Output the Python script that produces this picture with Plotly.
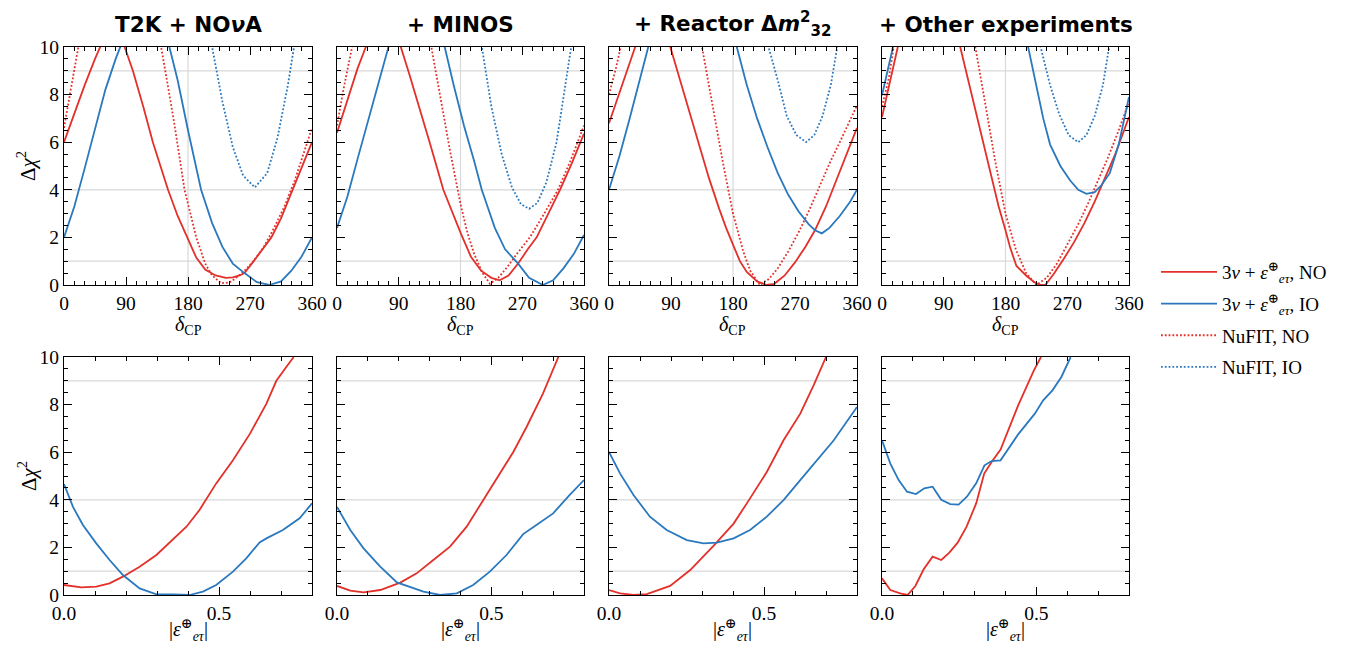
import plotly.graph_objects as go
from plotly.subplots import make_subplots

# the page body adds an 8px margin; lay out in window pixels and subtract it
OFF = 8
W, H = 1348 - OFF, 646 - OFF
RED = "#e2302a"
BLUE = "#2a78be"
GRID = "#d9d9d9"
SERIF = "Liberation Serif, DejaVu Serif, serif"
SANS = "DejaVu Sans, Liberation Sans, sans-serif"

titles = ["T2K + NO<i>ν</i>A", "+ MINOS", "+ Reactor Δ<i>m</i><sup>2</sup><sub>32</sub>", "+ Other experiments"]
legend_names = ["3<i>ν</i> + <i>ε</i><sup>⊕</sup><sub><i>eτ</i></sub>, NO",
                "3<i>ν</i> + <i>ε</i><sup>⊕</sup><sub><i>eτ</i></sub>, IO",
                "NuFIT, NO", "NuFIT, IO"]
delta_ticks = [0, 90, 180, 270, 360]
eps_ticks = [0.0, 0.5]
eps_tick_text = ["0.0", "0.5"]

# ---------------- top row: Delta chi^2 vs delta_CP ----------------
# Panel 1: T2K + NOvA
p1_no_x = [0, 15, 30, 45, 52, 60, 70, 80, 88, 100, 115, 129, 140, 151, 165, 180, 192, 205, 220, 235, 245, 255, 262, 274, 290, 301, 315, 332, 345, 360]
p1_no_y = [6.0, 7.2, 8.4, 9.5, 10.0, 10.5, 10.8, 10.5, 10.0, 9.0, 7.5, 6.0, 5.0, 4.0, 2.9, 1.9, 1.15, 0.65, 0.4, 0.3, 0.32, 0.4, 0.5, 0.95, 1.6, 2.0, 2.8, 4.0, 4.9, 6.0]
p1_io_x = [0, 15, 30, 45, 60, 75, 81, 95, 117, 140, 153, 165, 180, 199, 215, 230, 245, 262, 280, 298, 315, 330, 345, 360]
p1_io_y = [2.0, 3.3, 4.9, 6.6, 8.2, 9.5, 10.0, 11.0, 11.5, 11.0, 10.0, 8.6, 6.5, 4.0, 2.6, 1.6, 0.9, 0.5, 0.12, 0.0, 0.15, 0.6, 1.2, 2.0]
p1_nfno_x = [0, 10, 21, 30, 60, 100, 130, 141, 150, 160, 175, 192, 205, 215, 228, 240, 250, 262, 275, 290, 305, 320, 335, 350, 360]
p1_nfno_y = [6.6, 8.2, 10.0, 11.5, 13, 13, 11.5, 10.0, 8.5, 6.8, 4.0, 2.0, 0.9, 0.4, 0.08, 0.1, 0.3, 0.6, 1.0, 1.6, 2.4, 3.3, 4.4, 5.7, 6.6]
p1_nfio_x = [205, 215, 230, 245, 260, 277, 295, 310, 325, 335, 345]
p1_nfio_y = [12.0, 10.0, 7.7, 5.8, 4.6, 4.1, 4.7, 6.2, 8.4, 10.0, 12.0]

# Panel 2: + MINOS
p2_no_x = [0, 15, 30, 42, 60, 75, 93, 105, 120, 135, 155, 170, 180, 195, 210, 225, 237, 250, 264, 278, 291, 308, 325, 342, 360]
p2_no_y = [6.4, 7.8, 9.1, 10.0, 11.0, 11.0, 10.0, 8.9, 7.5, 6.0, 4.0, 2.9, 2.2, 1.2, 0.6, 0.3, 0.2, 0.4, 0.9, 1.5, 2.0, 3.0, 4.0, 5.1, 6.36]
p2_io_x = [0, 15, 30, 45, 60, 75, 95, 125, 145, 157, 170, 185, 200, 211, 230, 245, 264, 280, 300, 315, 330, 345, 360]
p2_io_y = [2.4, 3.7, 5.3, 6.9, 8.5, 10.0, 11.5, 12.0, 11.0, 10.0, 8.4, 6.7, 5.2, 4.0, 2.4, 1.5, 0.9, 0.3, 0.0, 0.2, 0.7, 1.3, 2.1]
p2_nfno_x = [0, 10, 22, 35, 125, 138, 150, 165, 180, 190, 200, 212, 223, 235, 248, 262, 281, 300, 322, 340, 360]
p2_nfno_y = [6.7, 8.3, 10.0, 12.0, 12.0, 10.0, 8.0, 5.6, 3.4, 2.2, 1.3, 0.5, 0.05, 0.3, 0.75, 1.3, 2.0, 2.9, 4.0, 5.2, 6.7]
p2_nfio_x = [200, 211, 225, 240, 255, 268, 280, 292, 305, 320, 333, 343, 352]
p2_nfio_y = [12.0, 10.0, 7.5, 5.5, 4.1, 3.4, 3.2, 3.45, 4.3, 6.0, 8.3, 10.0, 12.0]

# Panel 3: + Reactor dm32
p3_no_x = [0, 15, 30, 38, 55, 75, 89, 100, 115, 130, 145, 160, 170, 180, 190, 200, 215, 229, 240, 255, 270, 285, 299, 315, 330, 345, 360]
p3_no_y = [6.8, 8.1, 9.4, 10.0, 11.0, 11.0, 10.0, 8.9, 7.4, 5.9, 4.5, 3.2, 2.4, 1.7, 1.0, 0.55, 0.15, 0.0, 0.05, 0.4, 0.95, 1.6, 2.3, 3.3, 4.4, 5.5, 6.6]
p3_io_x = [0, 15, 30, 45, 57, 80, 160, 185.5, 200, 215, 230, 245, 260, 275, 290, 299, 309, 320, 335, 350, 360]
p3_io_y = [4.0, 5.4, 7.0, 8.6, 10.0, 12.0, 12.0, 10.0, 8.4, 7.0, 5.8, 4.7, 3.8, 3.1, 2.55, 2.3, 2.17, 2.4, 2.9, 3.5, 4.0]
p3_nfno_x = [0, 10, 17, 30, 120, 135, 150, 165, 180, 195, 205, 219, 232, 245, 260, 275, 290, 305, 320, 335, 348, 360]
p3_nfno_y = [8.0, 9.1, 10.0, 12.0, 12.0, 10.0, 7.6, 5.2, 3.0, 1.4, 0.6, 0.0, 0.25, 0.7, 1.4, 2.2, 3.1, 4.1, 5.1, 6.0, 6.8, 7.55]
p3_nfio_x = [220, 231.6, 245, 258, 272, 286, 298, 310, 322, 332, 340]
p3_nfio_y = [11.0, 10.0, 8.6, 7.1, 6.3, 6.0, 6.3, 7.1, 8.4, 10.0, 11.5]

# Panel 4: + Other experiments
p4_no_x = [0, 10, 23, 35, 100, 114, 130, 145, 160, 170, 180, 187, 196, 210, 222, 230, 238, 250, 265, 280, 295, 310, 325, 340, 360]
p4_no_y = [7.06, 8.3, 10.0, 12.0, 12.0, 10.0, 8.1, 6.3, 4.5, 3.3, 2.3, 1.55, 0.8, 0.4, 0.12, 0.0, 0.0, 0.45, 1.1, 1.8, 2.6, 3.5, 4.5, 5.5, 7.06]
p4_io_x = [0, 8, 16, 25, 195, 213, 225, 235, 245, 260, 274, 286, 298, 310, 320, 332, 345, 355, 360]
p4_io_y = [7.97, 9.0, 10.0, 12.0, 12.0, 10.0, 8.3, 7.0, 5.9, 5.0, 4.4, 4.0, 3.83, 3.9, 4.2, 4.7, 5.9, 7.2, 7.9]
p4_nfno_x = [0, 10, 17, 30, 122, 136, 150, 165, 180, 195, 210, 225, 240, 255, 270, 285, 300, 315, 330, 345, 360]
p4_nfno_y = [7.5, 8.7, 10.0, 12.0, 12.0, 10.0, 7.7, 5.2, 3.0, 1.5, 0.5, 0.0, 0.3, 0.9, 1.7, 2.5, 3.4, 4.4, 5.4, 6.5, 7.7]
p4_nfio_x = [220, 231, 245, 258, 272, 286, 298, 310, 322, 331, 340]
p4_nfio_y = [11.3, 10.0, 8.4, 7.2, 6.3, 6.0, 6.3, 7.1, 8.4, 10.0, 11.6]

# ---------------- bottom row: Delta chi^2 vs |eps_etau| ----------------
b1_no_x = [0.0, 0.056, 0.104, 0.147, 0.19, 0.244, 0.298, 0.35, 0.395, 0.437, 0.491, 0.545, 0.6, 0.653, 0.685, 0.717, 0.741]
b1_no_y = [0.42, 0.32, 0.35, 0.49, 0.77, 1.19, 1.68, 2.3, 2.87, 3.57, 4.69, 5.66, 6.78, 8.04, 9.0, 9.58, 10.0]
b1_io_x = [0.0, 0.029, 0.061, 0.104, 0.147, 0.19, 0.244, 0.298, 0.352, 0.405, 0.448, 0.491, 0.545, 0.588, 0.631, 0.653, 0.706, 0.76, 0.8]
b1_io_y = [4.66, 3.7, 2.94, 2.17, 1.47, 0.84, 0.28, 0.03, 0.03, 0.0, 0.14, 0.42, 0.98, 1.54, 2.21, 2.38, 2.73, 3.22, 3.85]

b2_no_x = [0.0, 0.043, 0.086, 0.14, 0.205, 0.258, 0.312, 0.366, 0.42, 0.474, 0.528, 0.571, 0.614, 0.667, 0.717]
b2_no_y = [0.38, 0.18, 0.11, 0.21, 0.52, 0.91, 1.47, 2.03, 2.87, 3.99, 5.1, 6.01, 7.06, 8.46, 10.0]
b2_io_x = [0.0, 0.043, 0.086, 0.14, 0.194, 0.237, 0.28, 0.334, 0.388, 0.441, 0.495, 0.549, 0.603, 0.646, 0.7, 0.753, 0.8]
b2_io_y = [3.7, 2.73, 1.96, 1.19, 0.53, 0.32, 0.14, 0.0, 0.07, 0.42, 0.98, 1.68, 2.56, 2.94, 3.43, 4.2, 4.83]

b3_no_x = [0.0, 0.036, 0.079, 0.122, 0.197, 0.262, 0.337, 0.402, 0.455, 0.509, 0.563, 0.617, 0.66, 0.7]
b3_no_y = [0.21, 0.07, 0.0, 0.04, 0.38, 1.05, 2.06, 3.0, 4.06, 5.17, 6.5, 7.62, 8.81, 10.0]
b3_io_x = [0.0, 0.036, 0.079, 0.132, 0.186, 0.251, 0.305, 0.348, 0.402, 0.455, 0.509, 0.563, 0.617, 0.671, 0.725, 0.8]
b3_io_y = [6.01, 5.1, 4.2, 3.29, 2.73, 2.31, 2.17, 2.2, 2.38, 2.73, 3.29, 3.99, 4.83, 5.66, 6.5, 7.9]

b4_no_x = [0.0, 0.027, 0.059, 0.083, 0.108, 0.135, 0.164, 0.192, 0.218, 0.245, 0.274, 0.305, 0.331, 0.355, 0.384, 0.414, 0.441, 0.468, 0.492, 0.515]
b4_no_y = [0.7, 0.21, 0.07, 0.0, 0.38, 1.08, 1.61, 1.47, 1.78, 2.2, 2.87, 3.85, 5.1, 5.59, 6.11, 7.06, 7.97, 8.74, 9.44, 10.0]
b4_io_x = [0.0, 0.027, 0.054, 0.081, 0.11, 0.137, 0.164, 0.192, 0.221, 0.248, 0.275, 0.305, 0.332, 0.355, 0.384, 0.414, 0.441, 0.495, 0.522, 0.552, 0.581, 0.611]
b4_io_y = [6.5, 5.52, 4.83, 4.34, 4.24, 4.48, 4.55, 4.0, 3.82, 3.8, 4.13, 4.69, 5.45, 5.63, 5.66, 6.22, 6.75, 7.62, 8.18, 8.6, 9.16, 10.0]

top_panels = [
    (p1_no_x, p1_no_y, p1_io_x, p1_io_y, p1_nfno_x, p1_nfno_y, p1_nfio_x, p1_nfio_y),
    (p2_no_x, p2_no_y, p2_io_x, p2_io_y, p2_nfno_x, p2_nfno_y, p2_nfio_x, p2_nfio_y),
    (p3_no_x, p3_no_y, p3_io_x, p3_io_y, p3_nfno_x, p3_nfno_y, p3_nfio_x, p3_nfio_y),
    (p4_no_x, p4_no_y, p4_io_x, p4_io_y, p4_nfno_x, p4_nfno_y, p4_nfio_x, p4_nfio_y),
]
bottom_panels = [
    (b1_no_x, b1_no_y, b1_io_x, b1_io_y),
    (b2_no_x, b2_no_y, b2_io_x, b2_io_y),
    (b3_no_x, b3_no_y, b3_io_x, b3_io_y),
    (b4_no_x, b4_no_y, b4_io_x, b4_io_y),
]

# layout geometry (window pixels)
lefts = [64, 337, 609, 882]
rights = [312, 584, 857, 1129]
top_row = (47, 285)
bot_row = (357, 595)


def px_x(v):
    return (v - OFF) / W


def px_y(v):
    return 1 - (v - OFF) / H


fig = make_subplots(rows=2, cols=4)

LW = 1.8
DOT = "1.8px,2px"


def add(x, y, color, dash, row, col, name, show):
    fig.add_trace(go.Scatter(x=x, y=y, mode="lines", name=name, legendgroup=name,
                             showlegend=show, line=dict(color=color, width=LW, dash=dash)),
                  row=row, col=col)


for i, (nx, ny, ix, iy, fnx, fny, fix, fiy) in enumerate(top_panels):
    show = (i == 0)
    add(fnx, fny, RED, DOT, 1, i + 1, legend_names[2], show)
    add(fix, fiy, BLUE, DOT, 1, i + 1, legend_names[3], show)
    add(nx, ny, RED, "solid", 1, i + 1, legend_names[0], show)
    add(ix, iy, BLUE, "solid", 1, i + 1, legend_names[1], show)

for i, (nx, ny, ix, iy) in enumerate(bottom_panels):
    add(nx, ny, RED, "solid", 2, i + 1, legend_names[0], False)
    add(ix, iy, BLUE, "solid", 2, i + 1, legend_names[1], False)

tickfont = dict(family=SERIF, size=19.5, color="black")
axis_common = dict(showline=True, linecolor="black", linewidth=1.3, mirror="allticks",
                   ticks="inside", ticklen=8, tickwidth=1, tickcolor="black",
                   showgrid=False, zeroline=False, tickfont=tickfont, automargin=False)

for r in (1, 2):
    for c in range(1, 5):
        rowpx = top_row if r == 1 else bot_row
        xd = [px_x(lefts[c - 1]), px_x(rights[c - 1])]
        yd = [px_y(rowpx[1]), px_y(rowpx[0])]
        if r == 1:
            fig.update_xaxes(row=r, col=c, domain=xd, range=[0, 360], tickvals=delta_ticks,
                             minor=dict(dtick=15, ticks="inside", ticklen=4, tickcolor="black"),
                             **axis_common)
        else:
            fig.update_xaxes(row=r, col=c, domain=xd, range=[0, 0.8], tickvals=eps_ticks,
                             ticktext=eps_tick_text,
                             minor=dict(dtick=0.1, ticks="inside", ticklen=4, tickcolor="black"),
                             **axis_common)
        fig.update_yaxes(row=r, col=c, domain=yd, range=[0, 10], dtick=2,
                         minor=dict(dtick=0.5, ticks="inside", ticklen=4, tickcolor="black"),
                         showticklabels=(c == 1), **axis_common)

# guide lines (Delta chi^2 = 1, 4, 9 ; delta_CP = 180)
shapes = []
for r in (1, 2):
    for c in range(1, 5):
        idx = (r - 1) * 4 + c
        xr = "x" if idx == 1 else f"x{idx}"
        yr = "y" if idx == 1 else f"y{idx}"
        xmax = 360 if r == 1 else 0.8
        for lv in (1, 4, 9):
            shapes.append(dict(type="line", xref=xr, yref=yr, x0=0, x1=xmax, y0=lv, y1=lv,
                               line=dict(color=GRID, width=1.2), layer="below"))
        if r == 1:
            shapes.append(dict(type="line", xref=xr, yref=yr, x0=180, x1=180, y0=0, y1=10,
                               line=dict(color=GRID, width=1.2), layer="below"))

annotations = []
for c in range(4):
    cx = px_x((lefts[c] + rights[c]) / 2)
    annotations.append(dict(text="<b>" + titles[c] + "</b>", x=cx, y=px_y(24), xref="paper", yref="paper",
                            showarrow=False, xanchor="center", yanchor="middle",
                            font=dict(family=SANS, size=21.5, color="black")))
    annotations.append(dict(text="<i>δ</i><sub>CP</sub>", x=cx, y=px_y(325), xref="paper", yref="paper",
                            showarrow=False, xanchor="center", yanchor="middle",
                            font=dict(family=SERIF, size=20, color="black")))
    annotations.append(dict(text="|<i>ε</i><sup>⊕</sup><sub><i>eτ</i></sub>|", x=cx, y=px_y(630),
                            xref="paper", yref="paper", showarrow=False, xanchor="center", yanchor="middle",
                            font=dict(family=SERIF, size=20, color="black")))
for yc in ((top_row[0] + top_row[1]) / 2, (bot_row[0] + bot_row[1]) / 2):
    annotations.append(dict(text="Δ<i>χ</i><sup>2</sup>", x=px_x(27), y=px_y(yc), xref="paper", yref="paper",
                            showarrow=False, xanchor="center", yanchor="middle", textangle=-90,
                            font=dict(family=SERIF, size=21, color="black")))

fig.update_layout(
    width=W, height=H, margin=dict(l=0, r=0, t=0, b=0, autoexpand=False),
    paper_bgcolor="white", plot_bgcolor="white",
    shapes=shapes, annotations=annotations,
    legend=dict(x=px_x(1156), y=px_y(253), xanchor="left", yanchor="top",
                font=dict(family=SERIF, size=19, color="black"), itemwidth=56,
                traceorder="grouped", tracegroupgap=4, bgcolor="rgba(0,0,0,0)"),
    showlegend=True,
)

# legend order: NO solid, IO solid, NuFIT NO, NuFIT IO
for tr in fig.data:
    if tr.showlegend:
        tr.legendrank = legend_names.index(tr.name) + 1

fig.write_html("out.html")
